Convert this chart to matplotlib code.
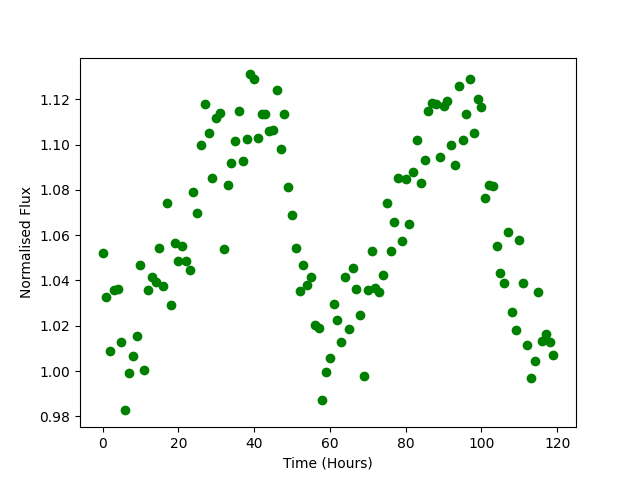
import numpy as np
import matplotlib
matplotlib.use('Agg')
import matplotlib.pyplot as plt

# время, часы
time_hours = list(range(120))

flux = [
    1.0519, 1.0329, 1.0087, 1.0357, 1.0360, 1.0130, 0.9826, 0.9989, 1.0065, 1.0156,
    1.0466, 1.0006, 1.0357, 1.0413, 1.0392, 1.0545, 1.0377, 1.0744, 1.0293, 1.0567,
    1.0488, 1.0550, 1.0488, 1.0448, 1.0792, 1.0700, 1.0996, 1.1180, 1.1049, 1.0854,
    1.1118, 1.1140, 1.0541, 1.0823, 1.0920, 1.1018, 1.1150, 1.0926, 1.1026, 1.1310,
    1.1290, 1.1030, 1.1137, 1.1137, 1.1058, 1.1066, 1.1240, 1.0982, 1.1137, 1.0814,
    1.0690, 1.0545, 1.0352, 1.0466, 1.0382, 1.0413, 1.0205, 1.0192, 0.9870, 0.9997,
    1.0056, 1.0298, 1.0224, 1.0126, 1.0413, 1.0187, 1.0457, 1.0364, 1.0249, 0.9977,
    1.0357, 1.0532, 1.0365, 1.0351, 1.0426, 1.0744, 1.0532, 1.0660, 1.0854, 1.0572,
    1.0850, 1.0651, 1.0880, 1.1020, 1.0830, 1.0934, 1.1150, 1.1185, 1.1180, 1.0947,
    1.1170, 1.1194, 1.0996, 1.0912, 1.1260, 1.1022, 1.1133, 1.1290, 1.1053, 1.1203,
    1.1164, 1.0762, 1.0823, 1.0819, 1.0554, 1.0435, 1.0390, 1.0616, 1.0262, 1.0183,
    1.0580, 1.0390, 1.0117, 0.9970, 1.0046, 1.0351, 1.0134, 1.0165, 1.0130, 1.0072,
]

plt.figure(figsize=(6.4, 4.8), dpi=100)
plt.plot(time_hours, flux, 'o', color='green')
plt.xlabel('Time (Hours)')
plt.ylabel('Normalised Flux')
plt.savefig('out.png', dpi=100)
